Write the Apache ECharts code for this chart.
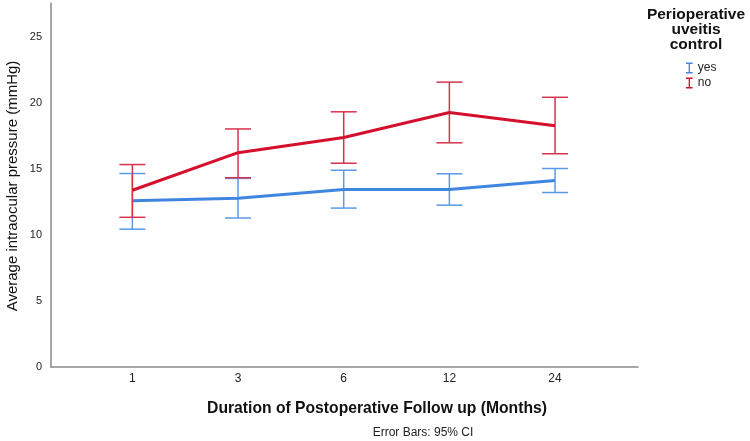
<!DOCTYPE html>
<html>
<head>
<meta charset="utf-8">
<script src="https://cdn.jsdelivr.net/npm/echarts@6/dist/echarts.min.js"></script>
<style>html,body{margin:0;padding:0;background:#fff}#c{width:750px;height:441px}</style>
</head>
<body>
<div id="c"></div>
<script>
var months = ['1', '3', '6', '12', '24'];
var yesMean = [12.6, 12.8, 13.45, 13.45, 14.15];
var yesLow  = [10.45, 11.3, 12.05, 12.27, 13.23];
var yesHigh = [14.67, 14.3, 14.92, 14.65, 15.05];
var noMean  = [13.4, 16.25, 17.4, 19.3, 18.3];
var noLow   = [11.35, 14.35, 15.45, 17.0, 16.17];
var noHigh  = [15.35, 18.05, 19.35, 21.6, 20.45];
var yTicks = [0, 5, 10, 15, 20, 25];

var blue = '#3f86e0', blueBar = '#5b9ae6';
var red = '#d4102e', redBar = '#d8324f';
var font = 'Liberation Sans, Arial, sans-serif';

function pts(arr) { return arr.map(function (v, i) { return [i, v]; }); }
function bars(lo, hi) { return lo.map(function (v, i) { return [i, v, hi[i]]; }); }

function errRender(color) {
  return function (params, api) {
    var x = api.value(0);
    var lo = api.coord([x, api.value(1)]);
    var hi = api.coord([x, api.value(2)]);
    var hw = 13;
    var st = { stroke: color, lineWidth: 1.5 };
    return {
      type: 'group',
      children: [
        { type: 'line', shape: { x1: hi[0], y1: hi[1], x2: lo[0], y2: lo[1] }, style: st },
        { type: 'line', shape: { x1: hi[0] - hw, y1: hi[1], x2: hi[0] + hw, y2: hi[1] }, style: st },
        { type: 'line', shape: { x1: lo[0] - hw, y1: lo[1], x2: lo[0] + hw, y2: lo[1] }, style: st }
      ]
    };
  };
}

var iconI = 'path://M0,0H6V1.3H3.6V8.7H6V10H0V8.7H2.4V1.3H0Z';

var chart = echarts.init(document.getElementById('c'));
chart.setOption({
  animation: false,
  backgroundColor: '#fff',
  grid: { left: 51, right: 112, top: 3, bottom: 74 },
  xAxis: {
    type: 'value', min: -0.77, max: 4.785,
    splitLine: { show: false },
    axisLine: { onZero: false, lineStyle: { color: '#888', width: 1.5 } },
    axisTick: { show: false },
    axisLabel: {
      customValues: [0, 1, 2, 3, 4],
      formatter: function (v) { return months[Math.round(v)]; },
      color: '#222', fontSize: 12, fontFamily: font, margin: 6
    }
  },
  yAxis: {
    type: 'value', min: 0, max: 27.6,
    splitLine: { show: false },
    axisLine: { show: true, onZero: false, lineStyle: { color: '#888', width: 1.5 } },
    axisTick: { show: false },
    axisLabel: {
      customValues: yTicks,
      color: '#222', fontSize: 11, fontFamily: font, margin: 9
    }
  },
  legend: {
    data: [{ name: 'yes', icon: iconI }, { name: 'no', icon: iconI }],
    orient: 'vertical',
    left: 681, top: 57,
    itemWidth: 7, itemHeight: 11, itemGap: 3,
    textStyle: { fontSize: 12, fontFamily: font, color: '#222' }
  },
  series: [
    { type: 'custom', name: 'yesErr', data: bars(yesLow, yesHigh), renderItem: errRender(blueBar), z: 2 },
    { type: 'line', name: 'yes', data: pts(yesMean), symbol: 'none',
      lineStyle: { color: blue, width: 3 }, itemStyle: { color: blue }, z: 3 },
    { type: 'custom', name: 'noErr', data: bars(noLow, noHigh), renderItem: errRender(redBar), z: 4 },
    { type: 'line', name: 'no', data: pts(noMean), symbol: 'none',
      lineStyle: { color: red, width: 3 }, itemStyle: { color: red }, z: 5 }
  ],
  graphic: [
    { type: 'text', x: 13, y: 186, rotation: Math.PI / 2,
      style: { text: 'Average intraocular pressure (mmHg)', font: '15px ' + font, fill: '#111', align: 'center', verticalAlign: 'middle' } },
    { type: 'text', x: 377, y: 409,
      style: { text: 'Duration of Postoperative Follow up (Months)', font: 'bold 15.7px ' + font, fill: '#111', align: 'center', verticalAlign: 'middle' } },
    { type: 'text', x: 423, y: 433,
      style: { text: 'Error Bars: 95% CI', font: '12px ' + font, fill: '#222', align: 'center', verticalAlign: 'middle' } },
    { type: 'text', x: 696, y: 15,
      style: { text: 'Perioperative', font: 'bold 15.5px ' + font, fill: '#111', align: 'center', verticalAlign: 'middle' } },
    { type: 'text', x: 696, y: 30,
      style: { text: 'uveitis', font: 'bold 15.5px ' + font, fill: '#111', align: 'center', verticalAlign: 'middle' } },
    { type: 'text', x: 696, y: 45,
      style: { text: 'control', font: 'bold 15.5px ' + font, fill: '#111', align: 'center', verticalAlign: 'middle' } }
  ]
});
</script>
</body>
</html>
